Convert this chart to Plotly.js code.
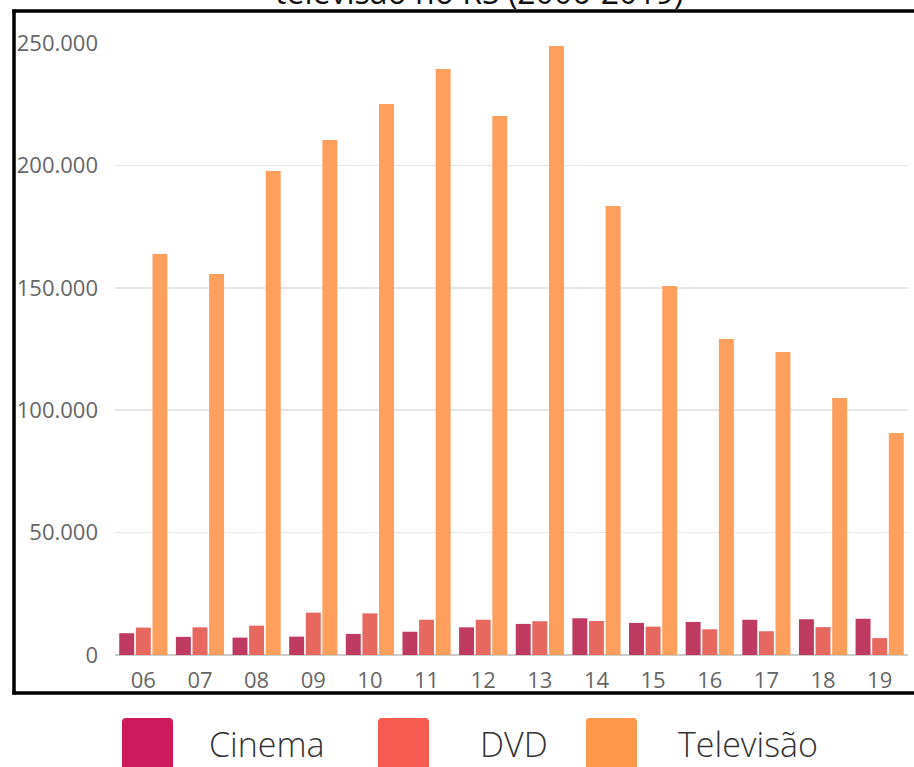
<!DOCTYPE html>
<html>
<head>
<meta charset="utf-8">
<script src="https://cdn.plot.ly/plotly-3.0.1.min.js"></script>
<style>html,body{margin:0;padding:0;background:#fff;}#chart{width:914px;height:767px;}</style>
</head>
<body>
<div id="chart"></div>
<script>
// Data
const years = ["06","07","08","09","10","11","12","13","14","15","16","17","18","19"];
const cinema = [8900, 7400, 7100, 7500, 8600, 9500, 11300, 12700, 15000, 13100, 13500, 14400, 14600, 14800];
const dvd = [11200, 11300, 12000, 17300, 17000, 14400, 14400, 13800, 13900, 11600, 10500, 9700, 11400, 6900];
const televisao = [163800, 155600, 197700, 210400, 225100, 239400, 220200, 248800, 183400, 150700, 129100, 123800, 105000, 90700];
const seriesNames = ["Cinema", "DVD", "Televisão"];
const yTickVals = [0, 50000, 100000, 150000, 200000, 250000];
const yTickText = ["0", "50.000", "100.000", "150.000", "200.000", "250.000"];
const titleText = "televisão no RS (2006-2019)";

const barColors = ["#BF3A60", "#E6685F", "#FF9F5E"];
const legendColors = ["#CC1A5C", "#F75B52", "#FF9749"];

const W = 914, H = 767;
const L = 115, R = 6, T = 43, B = 112;
const PW = W - L - R, PH = H - T - B;
const px = x => (x - L) / PW;
const py = y => (H - B - y) / PH;

const font = "'Open Sans', 'Noto Sans', sans-serif";

const traces = [cinema, dvd, televisao].map((vals, i) => ({
  type: "bar",
  name: seriesNames[i],
  x: years,
  y: vals,
  marker: {color: barColors[i], line: {width: 0}},
  hoverinfo: "x+y+name"
}));

const shapes = [];
// frame
const fc = "#000";
shapes.push({type: "line", xref: "paper", yref: "paper", x0: px(14), x1: px(14), y0: py(9.5), y1: py(694.5), line: {color: fc, width: 3.5}});
shapes.push({type: "line", xref: "paper", yref: "paper", x0: px(12.3), x1: px(920), y0: py(11), y1: py(11), line: {color: fc, width: 3.5}});
shapes.push({type: "line", xref: "paper", yref: "paper", x0: px(12.3), x1: px(920), y0: py(693), y1: py(693), line: {color: fc, width: 3.5}});

// custom legend
const legX = [122, 378, 586];
const legTextX = [207, 478, 676];
const annotations = [];
function roundRect(x0, y0, x1, y1, r) {
  const X = v => px(v).toFixed(5), Y = v => py(v).toFixed(5);
  return "M" + X(x0 + r) + "," + Y(y0) +
    " L" + X(x1 - r) + "," + Y(y0) +
    " Q" + X(x1) + "," + Y(y0) + " " + X(x1) + "," + Y(y0 + r) +
    " L" + X(x1) + "," + Y(y1) +
    " L" + X(x0) + "," + Y(y1) +
    " L" + X(x0) + "," + Y(y0 + r) +
    " Q" + X(x0) + "," + Y(y0) + " " + X(x0 + r) + "," + Y(y0) + " Z";
}
seriesNames.forEach((n, i) => {
  shapes.push({type: "path", xref: "paper", yref: "paper", path: roundRect(legX[i], 718, legX[i] + 51, 772, 4),
    fillcolor: legendColors[i], line: {width: 0}});
  annotations.push({xref: "paper", yref: "paper", x: px(legTextX[i]), y: py(744), xanchor: "left", yanchor: "middle",
    text: n, showarrow: false, font: {family: font, size: 34, color: "#333", weight: 300}});
});

// clipped title (second line visible, as in the reference)
annotations.push({xref: "paper", yref: "paper", x: px(478.5), y: py(15), xanchor: "center", yanchor: "bottom",
  text: titleText, showarrow: false, font: {family: font, size: 32, color: "#111"}});

const layout = {
  width: W, height: H,
  margin: {l: L, r: R, t: T, b: B, pad: 0},
  paper_bgcolor: "#fff", plot_bgcolor: "#fff",
  showlegend: false,
  barmode: "group",
  bargap: 0.12,
  bargroupgap: 0.1,
  font: {family: font},
  xaxis: {
    type: "category",
    showgrid: false, zeroline: false, showline: false,
    ticks: "", ticklabelstandoff: 10,
    tickfont: {family: font, size: 22, color: "#666"}
  },
  yaxis: {
    range: [0, 250000],
    tickvals: yTickVals, ticktext: yTickText,
    showgrid: true, gridcolor: "#E6E6E6", gridwidth: 1.5,
    zeroline: true, zerolinecolor: "#CCCCCC", zerolinewidth: 2,
    showline: false, ticks: "", ticklabelstandoff: 16,
    tickfont: {family: font, size: 22, color: "#666"}
  },
  shapes: shapes,
  annotations: annotations
};

Plotly.newPlot("chart", traces, layout, {displayModeBar: false, staticPlot: true});
</script>
</body>
</html>
